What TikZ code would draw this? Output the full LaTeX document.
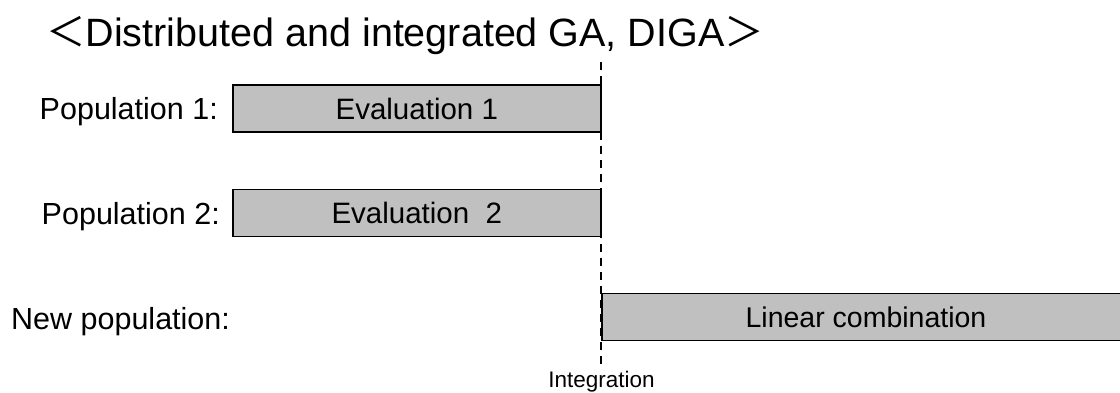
\documentclass[tikz,border=0pt]{standalone}
\usepackage{fontspec}
\setmainfont{Liberation Sans}
\newfontfamily\cjkfont{Noto Sans CJK JP}
\definecolor{boxgray}{RGB}{192,192,192}
\begin{document}
\begin{tikzpicture}[x=1pt,y=-1pt,
  phase/.style={draw=black, line width=1.6pt, fill=boxgray, minimum height=47pt, inner sep=0pt, font=\fontsize{29.5}{34}\selectfont},
  lbl/.style={inner sep=0pt, font=\fontsize{30.5}{36}\selectfont},
  integ/.style={draw=black, line width=2.2pt, dash pattern=on 8pt off 6pt}]
\useasboundingbox (0,0) rectangle (1120,392);
\clip (0,0) rectangle (1120,392);
\node[inner sep=0pt, anchor=base west, font=\fontsize{39.5}{46}\selectfont] (title) at (46,46) {{\cjkfont ＜}Distributed and integrated GA, DIGA{\cjkfont ＞}};
\node[phase, minimum width=368pt, anchor=west] (e1) at (232,108.5) {Evaluation 1};
\node[phase, minimum width=368pt, anchor=west] (e2) at (232,213) {Evaluation~~2};
\node[phase, minimum width=530pt, anchor=west] (lc) at (601,317) {};
\node[lbl, font=\fontsize{28.5}{34}\selectfont] (lct) at (866,317.5) {Linear combination};
\node[lbl, anchor=base east] (p1) at (218,119.5) {Population 1:};
\node[lbl, anchor=base east] (p2) at (220,224) {Population 2:};
\node[lbl, anchor=base west] (np) at (11,329) {New population:};
\coordinate (itop) at (601,62);
\coordinate (ibot) at (601,366);
\draw[integ] (itop) -- (ibot);
\node[inner sep=0pt, anchor=base, font=\fontsize{22.5}{26}\selectfont] (il) at (601.5,387) {Integration};
\end{tikzpicture}
\end{document}
